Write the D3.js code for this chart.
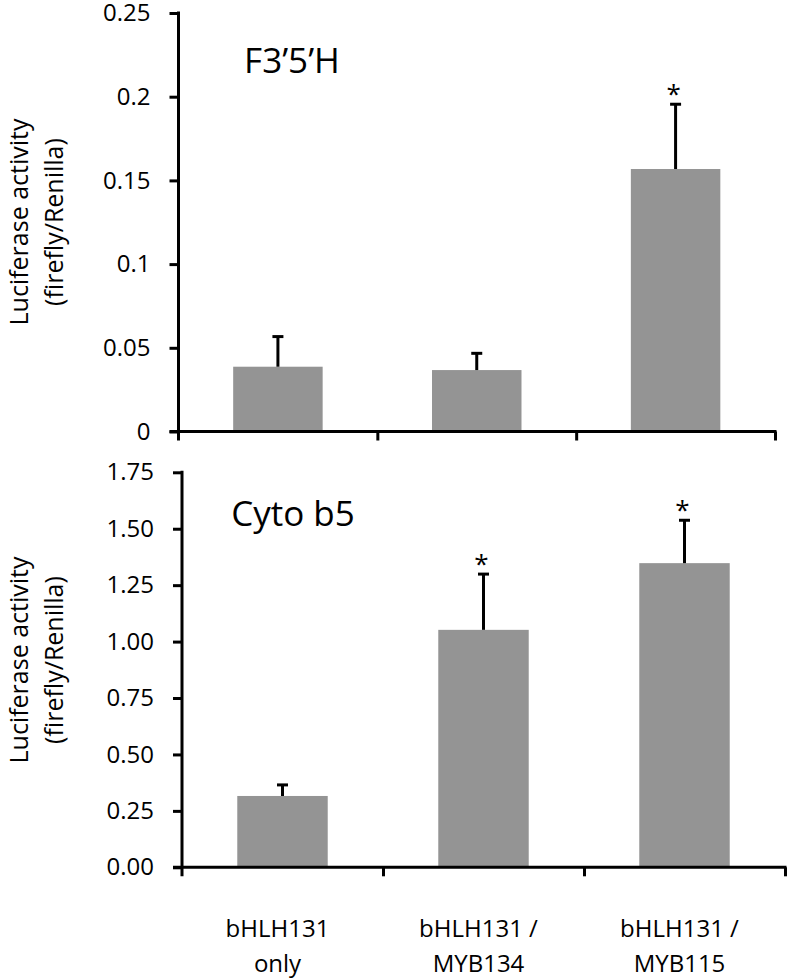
<!DOCTYPE html>
<html>
<head>
<meta charset="utf-8">
<script src="https://cdn.jsdelivr.net/npm/d3@7"></script>
<style>
  html, body { margin: 0; padding: 0; background: #fff; }
  svg { display: block; }
  text { font-family: "Open Sans", "Noto Sans", sans-serif; fill: #000; }
</style>
</head>
<body>
<svg id="chart" width="789" height="979"></svg>
<script>
// ---- data ----
const categories = ["bHLH131 only", "bHLH131 / MYB134", "bHLH131 / MYB115"];
const categoryLines = [["bHLH131", "only"], ["bHLH131 /", "MYB134"], ["bHLH131 /", "MYB115"]];

const f35hTitle = "F3\u20195\u2019H";
const f35hMeans = [0.0387, 0.0367, 0.1568];
const f35hErrors = [0.0180, 0.0100, 0.0387];
const f35hSignificant = [false, false, true];
const f35hTicks = [0, 0.05, 0.1, 0.15, 0.2, 0.25];
const f35hTickLabels = ["0", "0.05", "0.1", "0.15", "0.2", "0.25"];

const cytoTitle = "Cyto b5";
const cytoMeans = [0.316, 1.052, 1.3475];
const cytoErrors = [0.049, 0.247, 0.190];
const cytoSignificant = [false, true, true];
const cytoTicks = [0, 0.25, 0.5, 0.75, 1.0, 1.25, 1.5, 1.75];
const cytoTickLabels = ["0.00", "0.25", "0.50", "0.75", "1.00", "1.25", "1.50", "1.75"];

const yLabelLines = ["Luciferase activity", "(firefly/Renilla)"];

// ---- drawing ----
const svg = d3.select("#chart");
const barColor = "#949494";

function panel(cfg) {
  const g = svg.append("g");
  const x = d3.scaleBand().domain(categories).range([cfg.x0, cfg.x1])
    .paddingInner(0.55).paddingOuter(0.275);
  const xb = d3.scaleLinear().domain([0, categories.length]).range([cfg.x0, cfg.x1]);
  const y = d3.scaleLinear().domain([0, cfg.ticks[cfg.ticks.length - 1]]).range([cfg.y0, cfg.y1]);

  const data = categories.map((c, i) => ({ c, m: cfg.means[i], e: cfg.errors[i], s: cfg.sig[i] }));

  // bars
  g.selectAll("rect.bar").data(data).join("rect")
    .attr("class", "bar")
    .attr("x", d => x(d.c))
    .attr("width", x.bandwidth())
    .attr("y", d => y(d.m))
    .attr("height", d => y(0) - y(d.m))
    .attr("fill", barColor);

  // error bars (upper only)
  const eb = g.selectAll("g.err").data(data).join("g").attr("class", "err");
  eb.append("line")
    .attr("x1", d => x(d.c) + x.bandwidth() / 2)
    .attr("x2", d => x(d.c) + x.bandwidth() / 2)
    .attr("y1", d => y(d.m))
    .attr("y2", d => y(d.m + d.e))
    .attr("stroke", "#000").attr("stroke-width", 3);
  eb.append("line")
    .attr("x1", d => x(d.c) + x.bandwidth() / 2 - 5.5)
    .attr("x2", d => x(d.c) + x.bandwidth() / 2 + 5.5)
    .attr("y1", d => y(d.m + d.e))
    .attr("y2", d => y(d.m + d.e))
    .attr("stroke", "#000").attr("stroke-width", 3);

  // significance asterisks
  g.selectAll("text.sig").data(data.filter(d => d.s)).join("text")
    .attr("class", "sig")
    .attr("x", d => x(d.c) + x.bandwidth() / 2 - 2)
    .attr("y", d => y(d.m + d.e) - 1)
    .attr("text-anchor", "middle")
    .attr("font-size", 26)
    .text("*");

  // y axis
  const yAxis = d3.axisLeft(y).tickValues(cfg.ticks)
    .tickFormat((d, i) => cfg.tickLabels[i])
    .tickSize(9).tickSizeOuter(0).tickPadding(19);
  const ya = g.append("g").attr("transform", `translate(${cfg.x0},0)`).call(yAxis);
  ya.select(".domain").attr("stroke", "#000").attr("stroke-width", 3)
    .attr("d", `M0,${cfg.y1 - 1.5}V${cfg.y0 + 9}`);
  ya.selectAll(".tick line").attr("stroke", "#000").attr("stroke-width", 3);
  ya.selectAll(".tick text").attr("font-size", 24).attr("font-family", "Open Sans").attr("fill", "#000");

  // x axis (ticks at category boundaries)
  const xAxis = d3.axisBottom(xb).tickValues(d3.range(1, categories.length + 1))
    .tickFormat("").tickSize(9).tickSizeOuter(0);
  const xa = g.append("g").attr("transform", `translate(0,${cfg.y0})`).call(xAxis);
  xa.select(".domain").attr("stroke", "#000").attr("stroke-width", 3)
    .attr("d", `M${cfg.x0 - 9},0H${cfg.x1 + 1.5}`);
  xa.selectAll(".tick line").attr("stroke", "#000").attr("stroke-width", 3);

  // panel title
  g.append("text")
    .attr("x", cfg.titleX).attr("y", cfg.titleY)
    .attr("text-anchor", "middle")
    .attr("font-size", 35)
    .text(cfg.title);

  // y-axis label (two lines, rotated)
  const yl = g.append("text")
    .attr("transform", `translate(0,${cfg.labelY}) rotate(-90)`)
    .attr("text-anchor", "middle")
    .attr("font-size", 25);
  yl.append("tspan").attr("x", 0).attr("y", 28).text(yLabelLines[0]);
  yl.append("tspan").attr("x", 0).attr("y", 63).text(yLabelLines[1]);

  return x;
}

panel({
  x0: 178.5, x1: 775, y0: 431.5, y1: 13,
  means: f35hMeans, errors: f35hErrors, sig: f35hSignificant,
  ticks: f35hTicks, tickLabels: f35hTickLabels,
  title: f35hTitle, titleX: 292, titleY: 73, labelY: 222
});

const xBottom = panel({
  x0: 182, x1: 785, y0: 867.3, y1: 472.3,
  means: cytoMeans, errors: cytoErrors, sig: cytoSignificant,
  ticks: cytoTicks, tickLabels: cytoTickLabels,
  title: cytoTitle, titleX: 293, titleY: 526, labelY: 660
});

// category labels under the bottom panel
const cl = svg.append("g").selectAll("text.cat").data(categories).join("text")
  .attr("class", "cat")
  .attr("text-anchor", "middle")
  .attr("font-size", 24);
cl.each(function (c, i) {
  const t = d3.select(this);
  const cx = xBottom(c) + xBottom.bandwidth() / 2 - 5;
  categoryLines[i].forEach((line, j) => {
    t.append("tspan").attr("x", cx).attr("y", 937 + j * 35).text(line);
  });
});
</script>
</body>
</html>
